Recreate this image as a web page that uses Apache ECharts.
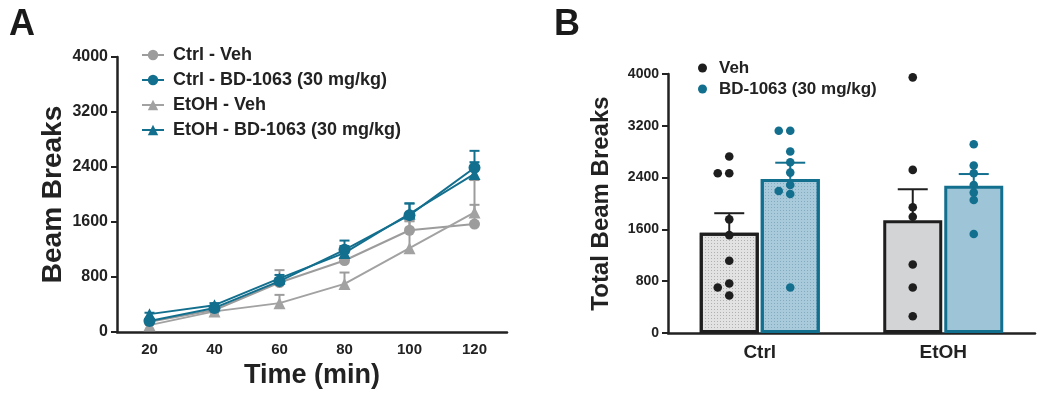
<!DOCTYPE html>
<html>
<head>
<meta charset="utf-8">
<script src="https://cdn.jsdelivr.net/npm/echarts@6/dist/echarts.min.js"></script>
<style>
html,body{margin:0;padding:0;background:#fff;}
#chart{width:1050px;height:394px;}
</style>
</head>
<body>
<div id="chart"></div>
<script>
// ---------- Panel A data ----------
const times = [20, 40, 60, 80, 100, 120];
const ctrlVeh    = [150, 320, 720, 1040, 1480, 1570];
const ctrlVehErr = [30, 30, 180, 110, 130, 280];
const ctrlBD     = [160, 350, 740, 1195, 1700, 2390];
const ctrlBDErr  = [20, 30, 40, 135, 170, 245];
const etohVeh    = [100, 300, 420, 700, 1220, 1740];
const etohVehErr = [20, 40, 120, 165, 400, 470];
const etohBD     = [260, 390, 780, 1150, 1720, 2300];
const etohBDErr  = [20, 30, 50, 100, 150, 170];
const seriesNamesA = ['Ctrl - Veh', 'Ctrl - BD-1063 (30 mg/kg)', 'EtOH - Veh', 'EtOH - BD-1063 (30 mg/kg)'];

// ---------- Panel B data ----------
const groups = ['Ctrl', 'EtOH'];
const vehMean = [1550, 1740];
const vehSem  = [300, 480];
const bdMean  = [2380, 2275];
const bdSem   = [250, 180];
const vehCtrlPts  = [2725, 2467, 2467, 1755, 1512, 1115, 764, 702, 578];
const vehEtohPts  = [3948, 2519, 1941, 1796, 1058, 702, 258];
const bdCtrlPts   = [3123, 3123, 2803, 2637, 2477, 2286, 2194, 2147, 702];
const bdEtohPts   = [2916, 2586, 2467, 2286, 2168, 2054, 1528];
const legendNamesB = ['Veh', 'BD-1063 (30 mg/kg)'];

// ---------- styles ----------
const FONT = '"Liberation Sans", Arial, Helvetica, sans-serif';
const TEAL = '#136f8e';
const GRAY = '#9c9c9c';
const BLACK = '#1e1e1e';
const AXIS = '#222222';
const BAR_W = 59, BAR_GAP_PX = 2;
const BAR_OFF = (BAR_W + BAR_GAP_PX) / 2;

function pairs(xs, ys, es) { return xs.map((x, i) => es ? [x, ys[i], es[i]] : [x, ys[i]]); }

function errRenderA(color) {
  return function (params, api) {
    const x = api.value(0), y = api.value(1), e = api.value(2);
    const p0 = api.coord([x, y]), p1 = api.coord([x, y + e]);
    const hw = 5;
    return {
      type: 'group', children: [
        { type: 'line', shape: { x1: p0[0], y1: p0[1], x2: p1[0], y2: p1[1] }, style: { stroke: color, lineWidth: 2 } },
        { type: 'line', shape: { x1: p1[0] - hw, y1: p1[1], x2: p1[0] + hw, y2: p1[1] }, style: { stroke: color, lineWidth: 2 } }
      ]
    };
  };
}

function errRenderB(color, off) {
  return function (params, api) {
    const c = api.value(0), y = api.value(1), e = api.value(2);
    const p0 = api.coord([c, y]), p1 = api.coord([c, y + e]);
    const x = p0[0] + off, hw = 15;
    return {
      type: 'group', children: [
        { type: 'line', shape: { x1: x, y1: p0[1], x2: x, y2: p1[1] }, style: { stroke: color, lineWidth: 2 } },
        { type: 'line', shape: { x1: x - hw, y1: p1[1], x2: x + hw, y2: p1[1] }, style: { stroke: color, lineWidth: 2 } }
      ]
    };
  };
}

// simple swarm layout for dots (pixel space)
function swarm(ys) {
  const step = 11.5, minD = 6.6;
  const placed = [];
  const offs = [];
  ys.forEach((y) => {
    const cands = [0, -step, step, -2 * step, 2 * step];
    let chosen = cands[cands.length - 1];
    for (const dx of cands) {
      let ok = true;
      for (const p of placed) {
        const ddx = p[0] - dx, ddy = p[1] - y;
        if (Math.sqrt(ddx * ddx + ddy * ddy) < minD) { ok = false; break; }
      }
      if (ok) { chosen = dx; break; }
    }
    placed.push([chosen, y]);
    offs.push(chosen);
  });
  return offs;
}

function dotRender(color, off, groupsPts) {
  let cache = null;
  return function (params, api) {
    if (!cache) {
      cache = groupsPts.map((pts, gi) => swarm(pts.map(v => api.coord([gi, v])[1])));
    }
    const g = api.value(0), v = api.value(1), k = api.value(2);
    const p = api.coord([g, v]);
    return {
      type: 'circle',
      shape: { cx: p[0] + off + cache[g][k], cy: p[1], r: 4.3 },
      style: { fill: color }
    };
  };
}

function dotData(groupsPts) {
  const out = [];
  groupsPts.forEach((pts, gi) => pts.forEach((v, k) => out.push([gi, v, k])));
  return out;
}

const axisLabelStyle = { color: AXIS, fontFamily: FONT, fontWeight: 'bold' };
const plain = v => String(v);

const option = {
  animation: false,
  backgroundColor: '#ffffff',
  title: [
    { text: 'A', left: 4, top: 2, textStyle: { fontFamily: FONT, fontWeight: 'bold', fontSize: 36, color: '#1a1a1a' } },
    { text: 'B', left: 549, top: 2, textStyle: { fontFamily: FONT, fontWeight: 'bold', fontSize: 36, color: '#1a1a1a' } }
  ],
  legend: [
    {
      data: seriesNamesA,
      orient: 'vertical', left: 141, top: 46, padding: 0,
      itemWidth: 22, itemHeight: 13, itemGap: 7,
      textStyle: { fontFamily: FONT, fontWeight: 'bold', fontSize: 18, color: '#222', lineHeight: 18, padding: [0, 0, 0, 4] },
      selectedMode: false
    },
    {
      data: legendNamesB.map(n => ({ name: n, icon: 'circle' })),
      orient: 'vertical', left: 698, top: 59, padding: 0,
      itemWidth: 9, itemHeight: 9, itemGap: 3,
      textStyle: { fontFamily: FONT, fontWeight: 'bold', fontSize: 17, color: '#222', lineHeight: 18, padding: [0, 0, 0, 7] },
      selectedMode: false
    }
  ],
  grid: [
    { left: 117, top: 57, width: 390, height: 275 },
    { left: 668, top: 74, width: 367, height: 259 }
  ],
  xAxis: [
    {
      gridIndex: 0, type: 'value', min: 10, max: 130, interval: 10,
      axisLine: { lineStyle: { color: AXIS, width: 2.5 } },
      axisTick: { show: false }, splitLine: { show: false },
      axisLabel: Object.assign({ fontSize: 15, margin: 10, formatter: v => (v % 20 === 0 && v >= 20 && v <= 120) ? String(v) : '' }, axisLabelStyle),
      name: 'Time (min)', nameLocation: 'middle', nameGap: 27,
      nameTextStyle: { fontFamily: FONT, fontWeight: 'bold', fontSize: 27, color: '#222' }
    },
    {
      gridIndex: 1, type: 'category', data: groups,
      axisLine: { lineStyle: { color: AXIS, width: 2.5 } },
      axisTick: { show: false }, splitLine: { show: false },
      axisLabel: Object.assign({ fontSize: 19, margin: 10 }, axisLabelStyle)
    }
  ],
  yAxis: [
    {
      gridIndex: 0, type: 'value', min: 0, max: 4000, interval: 800,
      axisLine: { show: true, lineStyle: { color: AXIS, width: 2.5 } },
      axisTick: { show: true, length: 6, lineStyle: { color: AXIS, width: 2 } },
      splitLine: { show: false },
      axisLabel: Object.assign({ fontSize: 16, margin: 9, formatter: plain }, axisLabelStyle),
      name: 'Beam Breaks', nameLocation: 'middle', nameGap: 50, nameRotate: 90,
      nameTextStyle: { fontFamily: FONT, fontWeight: 'bold', fontSize: 28, color: '#222' }
    },
    {
      gridIndex: 1, type: 'value', min: 0, max: 4000, interval: 800,
      axisLine: { show: true, lineStyle: { color: AXIS, width: 2.5 } },
      axisTick: { show: true, length: 6, lineStyle: { color: AXIS, width: 2 } },
      splitLine: { show: false },
      axisLabel: Object.assign({ fontSize: 14, margin: 9, formatter: plain }, axisLabelStyle),
      name: 'Total Beam Breaks', nameLocation: 'middle', nameGap: 55, nameRotate: 90,
      nameTextStyle: { fontFamily: FONT, fontWeight: 'bold', fontSize: 24, color: '#222' }
    }
  ],
  series: [
    // ---- Panel A error bars ----
    { type: 'custom', xAxisIndex: 0, yAxisIndex: 0, z: 2, renderItem: errRenderA(GRAY), data: pairs(times, ctrlVeh, ctrlVehErr), encode: { x: 0, y: 1 } },
    { type: 'custom', xAxisIndex: 0, yAxisIndex: 0, z: 2, renderItem: errRenderA(GRAY), data: pairs(times, etohVeh, etohVehErr), encode: { x: 0, y: 1 } },
    { type: 'custom', xAxisIndex: 0, yAxisIndex: 0, z: 4, renderItem: errRenderA(TEAL), data: pairs(times, ctrlBD, ctrlBDErr), encode: { x: 0, y: 1 } },
    { type: 'custom', xAxisIndex: 0, yAxisIndex: 0, z: 4, renderItem: errRenderA(TEAL), data: pairs(times, etohBD, etohBDErr), encode: { x: 0, y: 1 } },
    // ---- Panel A lines ----
    { name: seriesNamesA[0], type: 'line', xAxisIndex: 0, yAxisIndex: 0, z: 3, data: pairs(times, ctrlVeh),
      symbol: 'circle', symbolSize: 11, color: GRAY, lineStyle: { width: 2, color: GRAY }, itemStyle: { color: GRAY } },
    { name: seriesNamesA[2], type: 'line', xAxisIndex: 0, yAxisIndex: 0, z: 3, data: pairs(times, etohVeh),
      symbol: 'triangle', symbolSize: 12, color: '#a2a2a2', lineStyle: { width: 2, color: '#a2a2a2' }, itemStyle: { color: '#a2a2a2' } },
    { name: seriesNamesA[1], type: 'line', xAxisIndex: 0, yAxisIndex: 0, z: 5, data: pairs(times, ctrlBD),
      symbol: 'circle', symbolSize: 12, color: TEAL, lineStyle: { width: 2, color: TEAL }, itemStyle: { color: TEAL } },
    { name: seriesNamesA[3], type: 'line', xAxisIndex: 0, yAxisIndex: 0, z: 5, data: pairs(times, etohBD),
      symbol: 'triangle', symbolSize: 12, color: TEAL, lineStyle: { width: 2, color: TEAL }, itemStyle: { color: TEAL } },
    // ---- Panel B bars ----
    { name: 'Veh mean', type: 'bar', xAxisIndex: 1, yAxisIndex: 1, z: 2, barWidth: BAR_W, barGap: (BAR_GAP_PX / BAR_W * 100).toFixed(1) + '%',
      data: vehMean.map((v, i) => ({
        value: v,
        itemStyle: i === 0
          ? { color: '#e2e2e2', borderColor: BLACK, borderWidth: 3,
              decal: { symbol: 'rect', symbolSize: 1, color: 'rgba(0,0,0,0.22)', dashArrayX: [1, 2], dashArrayY: [1, 2] } }
          : { color: '#d3d4d6', borderColor: BLACK, borderWidth: 3 }
      })) },
    { name: 'BD mean', type: 'bar', xAxisIndex: 1, yAxisIndex: 1, z: 2, barWidth: BAR_W,
      data: bdMean.map((v, i) => ({
        value: v,
        itemStyle: i === 0
          ? { color: '#a8cadb', borderColor: TEAL, borderWidth: 3,
              decal: { symbol: 'rect', symbolSize: 1, color: 'rgba(20,80,110,0.25)', dashArrayX: [1, 2], dashArrayY: [1, 2] } }
          : { color: '#9ec4d7', borderColor: TEAL, borderWidth: 3 }
      })) },
    // ---- Panel B error bars ----
    { type: 'custom', xAxisIndex: 1, yAxisIndex: 1, z: 3, renderItem: errRenderB(BLACK, -BAR_OFF),
      data: vehMean.map((m, i) => [i, m, vehSem[i]]), encode: { x: 0, y: 1 } },
    { type: 'custom', xAxisIndex: 1, yAxisIndex: 1, z: 3, renderItem: errRenderB(TEAL, BAR_OFF),
      data: bdMean.map((m, i) => [i, m, bdSem[i]]), encode: { x: 0, y: 1 } },
    // ---- Panel B individual points ----
    { name: legendNamesB[0], type: 'custom', xAxisIndex: 1, yAxisIndex: 1, z: 4, itemStyle: { color: BLACK },
      renderItem: dotRender(BLACK, -BAR_OFF, [vehCtrlPts, vehEtohPts]),
      data: dotData([vehCtrlPts, vehEtohPts]), encode: { x: 0, y: 1 } },
    { name: legendNamesB[1], type: 'custom', xAxisIndex: 1, yAxisIndex: 1, z: 4, itemStyle: { color: TEAL },
      renderItem: dotRender(TEAL, BAR_OFF, [bdCtrlPts, bdEtohPts]),
      data: dotData([bdCtrlPts, bdEtohPts]), encode: { x: 0, y: 1 } }
  ]
};

const chart = echarts.init(document.getElementById('chart'), null, { renderer: 'canvas' });
chart.setOption(option);
</script>
</body>
</html>
